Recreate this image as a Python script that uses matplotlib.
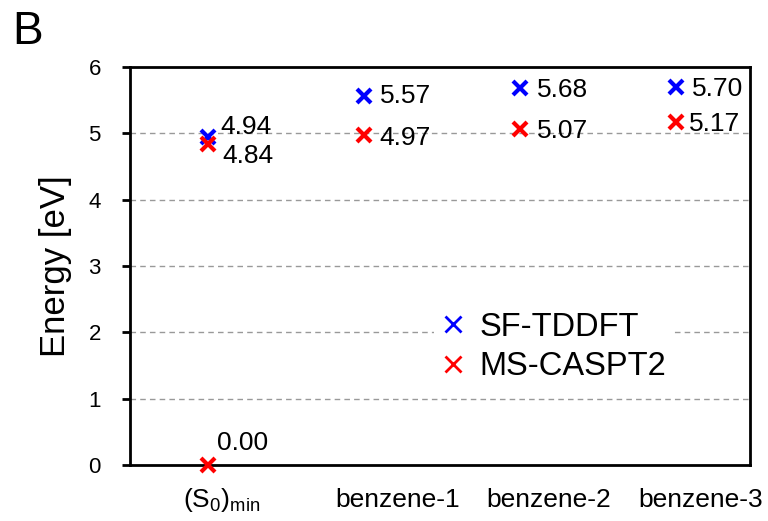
import numpy as np
import matplotlib
matplotlib.use("Agg")
import matplotlib.pyplot as plt
from matplotlib.lines import Line2D

plt.rcParams['font.family'] = ['Liberation Sans', 'DejaVu Sans']
plt.rcParams['mathtext.fontset'] = 'custom'
plt.rcParams['mathtext.rm'] = 'Liberation Sans'

categories = [r'(S$_0$)$_{\mathrm{min}}$', 'benzene-1', 'benzene-2', 'benzene-3']
sf_x = [0, 1, 2, 3]
sf_tddft = [4.94, 5.57, 5.68, 5.70]
ms_x = [0, 0, 1, 2, 3]
ms_caspt2 = [0.00, 4.84, 4.97, 5.07, 5.17]

# label offsets in points (dx, dy)
sf_offsets = [(8.6, 7.5), (11.5, -0.7), (12.2, -1), (11.5, -1.8)]
ms_offsets = [(6.5, 15.5), (10, -9), (10.8, -1.6), (12.2, -2), (9.4, -1.4)]
# category labels are left-aligned, shifted left of the marker (points)
cat_offsets = [-18, -21, -24, -27.4]

fig = plt.figure(figsize=(7.68, 5.21), dpi=100)
ax = fig.add_axes([130/768, 56/521, 620/768, 398/521])

ax.plot(sf_x, sf_tddft, 'x', color='#0000ff', ms=10, mew=3, ls='none',
        zorder=4, clip_on=False)
ax.plot(ms_x, ms_caspt2, 'x', color='#ff0000', ms=10, mew=3, ls='none',
        zorder=4, clip_on=False)

for x, y, (dx, dy) in zip(sf_x, sf_tddft, sf_offsets):
    ax.annotate('%.2f' % y, (x, y), xytext=(dx, dy), textcoords='offset points',
                ha='left', va='center', fontsize=19)
for x, y, (dx, dy) in zip(ms_x, ms_caspt2, ms_offsets):
    ax.annotate('%.2f' % y, (x, y), xytext=(dx, dy), textcoords='offset points',
                ha='left', va='center', fontsize=19)

ax.set_xlim(-0.5, 3.474)
ax.set_ylim(0, 6)
ax.set_yticks(range(7))
ax.set_xticks([])
for x, lab, dx in zip(sf_x, categories, cat_offsets):
    ax.annotate(lab, (x, 0), xycoords=('data', 'axes fraction'), xytext=(dx, -30),
                textcoords='offset points', ha='left', va='baseline', fontsize=19,
                annotation_clip=False)
ax.tick_params(axis='y', direction='out', length=6, width=2, labelsize=16, pad=15)
for s in ax.spines.values():
    s.set_linewidth(2)
for yv in range(1, 6):
    ax.axhline(yv, color='#999999', ls=(0, (4, 3)), lw=1, zorder=1)
ax.set_ylabel('Energy [eV]', fontsize=25)
ax.yaxis.set_label_coords(-0.0935, 0.5)

handles = [Line2D([], [], marker='x', color='#0000ff', ms=12, mew=2, ls='none'),
           Line2D([], [], marker='x', color='#ff0000', ms=12, mew=2, ls='none')]
leg = ax.legend(handles, ['SF-TDDFT', 'MS-CASPT2'], loc='upper left',
                bbox_to_anchor=(0.49, 0.402), fontsize=23.5, frameon=True,
                framealpha=1, edgecolor='none', fancybox=False,
                handletextpad=0.4, borderpad=0.2, labelspacing=0.26,
                handlelength=0.8, borderaxespad=0)
leg.set_zorder(2)

fig.text(12/768, 1 - 32/521, 'B', fontsize=33, va='center', ha='left')

fig.savefig('out.png', dpi=100)
